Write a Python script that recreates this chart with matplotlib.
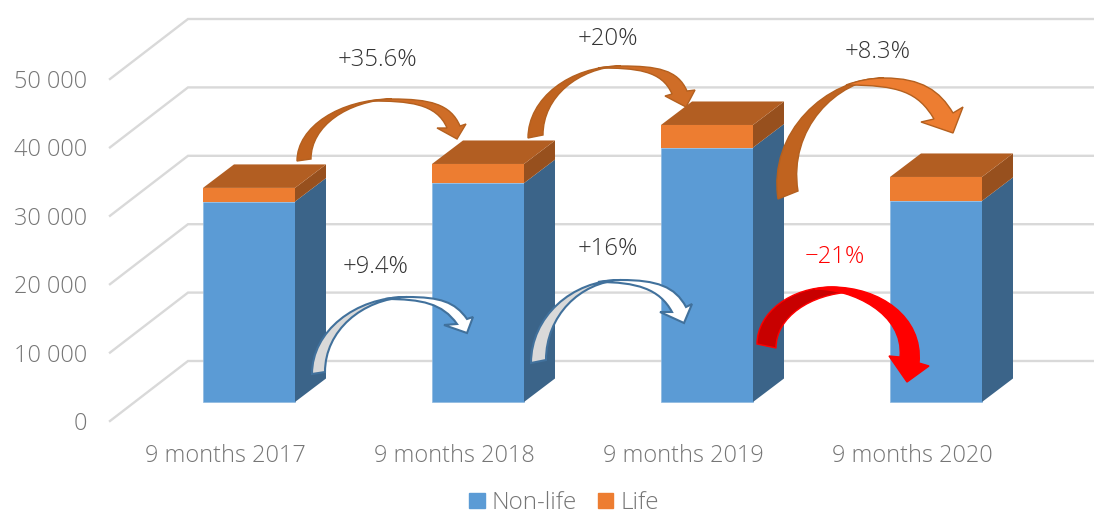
import numpy as np
import matplotlib
matplotlib.use("Agg")
import matplotlib.pyplot as plt
from matplotlib.patches import Patch, PathPatch, Polygon
from matplotlib.path import Path

plt.rcParams['font.family'] = ['Open Sans', 'DejaVu Sans']

categories = ['9 months 2017', '9 months 2018', '9 months 2019', '9 months 2020']
non_life = [29300, 32000, 37200, 29400]
life = [2000, 2800, 3300, 3500]
y_ticks = [0, 10000, 20000, 30000, 40000, 50000]
y_labels = ['0', '10 000', '20 000', '30 000', '40 000', '50 000']

W, H = 1094, 513
PX_X = 229.0     # pixels per category
PX_Y = 68.4 / 10000  # pixels per unit
BAR_W = 92 / PX_X
DX = 31 / PX_X   # depth of the fake 3d
DY = 23.5 / PX_Y

fig = plt.figure(figsize=(W / 100, H / 100), dpi=100)
ax = fig.add_axes([0, 0, 1, 1])
ax.set_xlim(-249 / PX_X, (W - 249) / PX_X)
ax.set_ylim(-(H - 402) / PX_Y, 402 / PX_Y)
ax.axis('off')

# gridlines: diagonal on the floor side, then along the back wall
grid_x = [(110 - 249) / PX_X, (188 - 249) / PX_X, (W - 249) / PX_X]
for t in y_ticks:
    grid_y = [t - 19 / PX_Y, t + 41 / PX_Y, t + 41 / PX_Y]
    ax.plot(grid_x, grid_y, color='#d9d9d9', lw=1.7, zorder=1, solid_joinstyle='miter')
    ax.text(-162 / PX_X, t - 22 / PX_Y, y_labels[y_ticks.index(t)], ha='right', va='center',
            fontsize=16.9, color='#767676', fontweight='light')

x = np.arange(len(categories))
ax.bar(x, non_life, BAR_W, color='#5b9bd5', edgecolor='#8db8e0', lw=0.5, zorder=2, label='Non-life')
ax.bar(x, life, BAR_W, bottom=non_life, color='#ed7d31', zorder=2, label='Life')

for i in range(len(categories)):
    right = x[i] + BAR_W / 2
    left = x[i] - BAR_W / 2
    n = non_life[i]
    top = non_life[i] + life[i]
    ax.add_patch(Polygon([(right, 0), (right + DX, DY), (right + DX, n + DY), (right, n)], color='#3b6489', lw=0, zorder=2))
    ax.add_patch(Polygon([(right, n), (right + DX, n + DY), (right + DX, top + DY), (right, top)], color='#97501e', lw=0, zorder=2))
    ax.add_patch(Polygon([(left, top), (left + DX, top + DY), (right + DX, top + DY), (right, top)], color='#b25e22', lw=0, zorder=2))
    ax.text(x[i] - 24 / PX_X, -54 / PX_Y, categories[i], ha='center', va='center',
            fontsize=16.9, color='#767676', fontweight='light')

handles = [Patch(color='#5b9bd5', label='Non-life'), Patch(color='#ed7d31', label='Life')]
ax.legend(handles=handles, ncol=2, loc='center', bbox_to_anchor=(564 / W, 1 - 503 / H), frameon=False,
          prop={'size': 17.5, 'weight': 'light'}, labelcolor='#767676', handlelength=0.62, handleheight=0.62,
          handletextpad=0.3, columnspacing=0.85, borderpad=0, borderaxespad=0)

# overlay in pixel coordinates for the hand drawn arrows and the notes
ov = fig.add_axes([0, 0, 1, 1])
ov.set_xlim(0, W)
ov.set_ylim(H, 0)
ov.axis('off')
ov.patch.set_alpha(0)


def curved_arrow(foot_o, foot_i, top, top_i, neck_o, neck_i, wing_o, tip, wing_i, back, front, edge,
                 bulge=0, lw=1.0, reach=0.33, rise_end=None):
    foot_o, foot_i, top, top_i = map(np.array, (foot_o, foot_i, top, top_i))
    neck_o, neck_i, wing_o, tip, wing_i = map(np.array, (neck_o, neck_i, wing_o, tip, wing_i))
    k = 0.55
    end = top if rise_end is None else np.array(rise_end)
    # rising band, the darker underside, tapers to the crest
    verts = [foot_o,
             (foot_o[0] - bulge, foot_o[1] - k * (foot_o[1] - top[1])), (top[0] - k * (top[0] - foot_o[0]), top[1]), top,
             ((top[0] + end[0]) / 2, top[1]), end,
             (end[0] - k * (end[0] - foot_i[0]), end[1] + 2), (foot_i[0] - bulge, foot_i[1] - k * (foot_i[1] - end[1])), foot_i,
             foot_o]
    codes = [Path.MOVETO] + [Path.CURVE4] * 3 + [Path.CURVE3] * 2 + [Path.CURVE4] * 3 + [Path.CLOSEPOLY]
    ov.add_patch(PathPatch(Path(verts, codes), facecolor=back, edgecolor=edge, lw=lw, zorder=3))
    # falling band with the head
    axis_dir = (wing_o + wing_i) / 2 - tip
    axis_dir = axis_dir / np.linalg.norm(axis_dir)
    reach_o = reach * np.linalg.norm(neck_o - top)
    reach_i = reach * np.linalg.norm(neck_i - top_i)
    verts = [top_i,
             ((top_i[0] + top[0]) / 2, top[1]), top,
             (top[0] + k * (neck_o[0] - top[0]), top[1]), neck_o + axis_dir * reach_o, neck_o,
             wing_o, tip, wing_i, neck_i,
             neck_i + axis_dir * reach_i, (top[0] + 0.3 * (neck_i[0] - top[0]), top_i[1]), top_i,
             top_i]
    codes = [Path.MOVETO] + [Path.CURVE3] * 2 + [Path.CURVE4] * 3 + [Path.LINETO] * 4 + [Path.CURVE4] * 3 + [Path.CLOSEPOLY]
    ov.add_patch(PathPatch(Path(verts, codes), facecolor=front, edgecolor=edge, lw=lw, zorder=3, joinstyle='miter'))


curved_arrow((297, 161), (311, 159), (392, 99), (370, 101), (460, 126), (447, 128), (466, 124), (457, 139), (437, 128),
             '#c0631f', '#cf6d27', '#b4601f')
curved_arrow((528, 138), (543, 135), (621, 66), (598, 68), (687, 91), (672, 94), (695, 90), (686, 107), (665, 96),
             '#c0631f', '#cf6d27', '#b4601f')
curved_arrow((778, 199), (798, 191), (884, 78), (846, 85), (953, 113), (934, 119), (963, 107), (953, 133), (921, 122),
             '#c0631f', '#ed7d31', '#b4601f', bulge=10)
curved_arrow((312, 374), (325, 372), (407, 297), (385, 299), (467, 319), (457, 324), (473, 317), (467, 333), (444, 325),
             '#d9d9d9', 'white', '#41719c', lw=1.5)
curved_arrow((531, 363), (546, 360), (621, 280), (598, 282), (686, 307), (672, 312), (692, 304), (684, 323), (660, 312),
             '#d9d9d9', 'white', '#41719c', lw=1.5)
curved_arrow((757, 344), (776, 348), (832, 287), (815, 289), (919, 363), (900, 357), (929, 366), (907, 382), (889, 356),
             '#c80000', '#ff0000', '#ff0000', reach=0.4, rise_end=(852, 292))

note_x = [377, 376, 608, 608, 878, 835]
note_y = [60, 267, 39, 249, 52, 257]
note_text = ['+35.6%', '+9.4%', '+20%', '+16%', '+8.3%', '\u221221%']
note_color = ['#333333', '#333333', '#333333', '#333333', '#333333', '#ff0000']
for i in range(len(note_text)):
    ov.text(note_x[i], note_y[i], note_text[i], ha='center', va='center', fontsize=17.2,
            color=note_color[i], fontweight='light')

fig.savefig('out.png', dpi=100)
